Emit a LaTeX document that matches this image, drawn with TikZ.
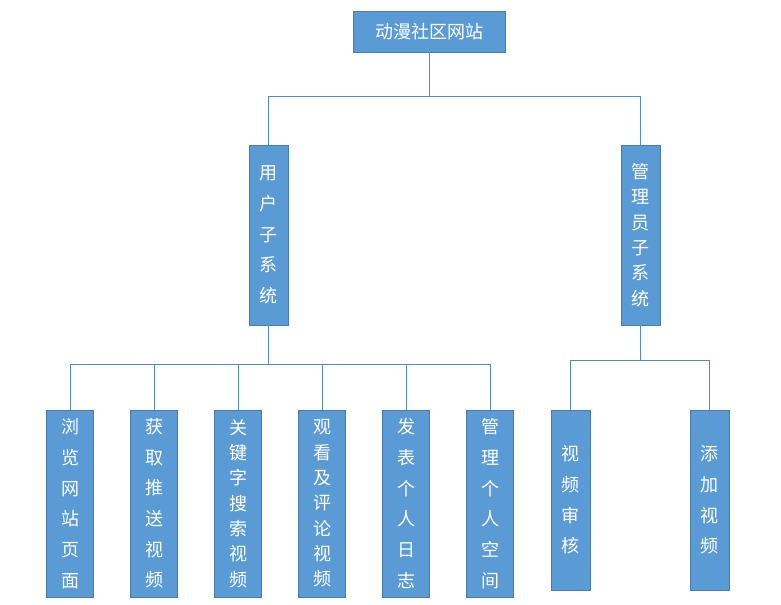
\documentclass[tikz,border=0pt]{standalone}
\usepackage{fontspec}
\setmainfont{Noto Sans CJK SC}
\usetikzlibrary{positioning}
\definecolor{boxblue}{HTML}{5B9BD5}
\tikzset{
  box/.style={draw=boxblue!80!black, fill=boxblue, text=white, inner sep=0pt,
    font=\fontsize{13.5}{23}\selectfont, align=center},
  tightbox/.style={box, font=\fontsize{13.5}{19}\selectfont},
  rootbox/.style={box, minimum width=114pt, minimum height=31pt},
  midbox/.style={box, minimum width=29pt, minimum height=135pt},
  leafbox/.style={box, minimum width=35pt, minimum height=140pt}
}
\tikzset{link/.style={draw=boxblue!90!black, line width=0.6pt}}
\begin{document}
\begin{tikzpicture}[x=0.75pt, y=-0.75pt]
		\useasboundingbox (0,0) rectangle (781,605);
		
		% Boxes
		\node[rootbox] (root) at (429,31.5) {动漫社区网站};
		\node[midbox] (user) at (268.5,235) {用\\户\\子\\系\\统};
		\node[midbox, tightbox] (admin) at (640.5,235) {管\\理\\员\\子\\系\\统};
		%
		\node[leafbox] (browse) at (70,503.5) {浏\\览\\网\\站\\页\\面};
		\node[leafbox] (push) at (154,503.5) {获\\取\\推\\送\\视\\频};
		\node[leafbox, tightbox] (search) at (238,503.5) {关\\键\\字\\搜\\索\\视\\频};
		\node[leafbox, tightbox] (comment) at (322,503.5) {观\\看\\及\\评\\论\\视\\频};
		\node[leafbox] (diary) at (406,503.5) {发\\表\\个\\人\\日\\志};
		\node[leafbox] (space) at (490,503.5) {管\\理\\个\\人\\空\\间};
		\node[midbox] (audit) at (570.5,500) {视\\频\\审\\核};
		\node[midbox] (add) at (709.5,500) {添\\加\\视\\频};
		
		% Links
		\draw[link] (root.south) -- ++(0,44) -| (user.north);
		\draw[link] (root.south) -- ++(0,44) -| (admin.north);
		\foreach \n in {browse, push, search, comment, diary, space}
			\draw[link] (user.south) -- ++(0,39) -| (\n.north);
		\foreach \n in {audit, add}
			\draw[link] (admin.south) -- ++(0,35) -| (\n.north);
	\end{tikzpicture}
\end{document}
